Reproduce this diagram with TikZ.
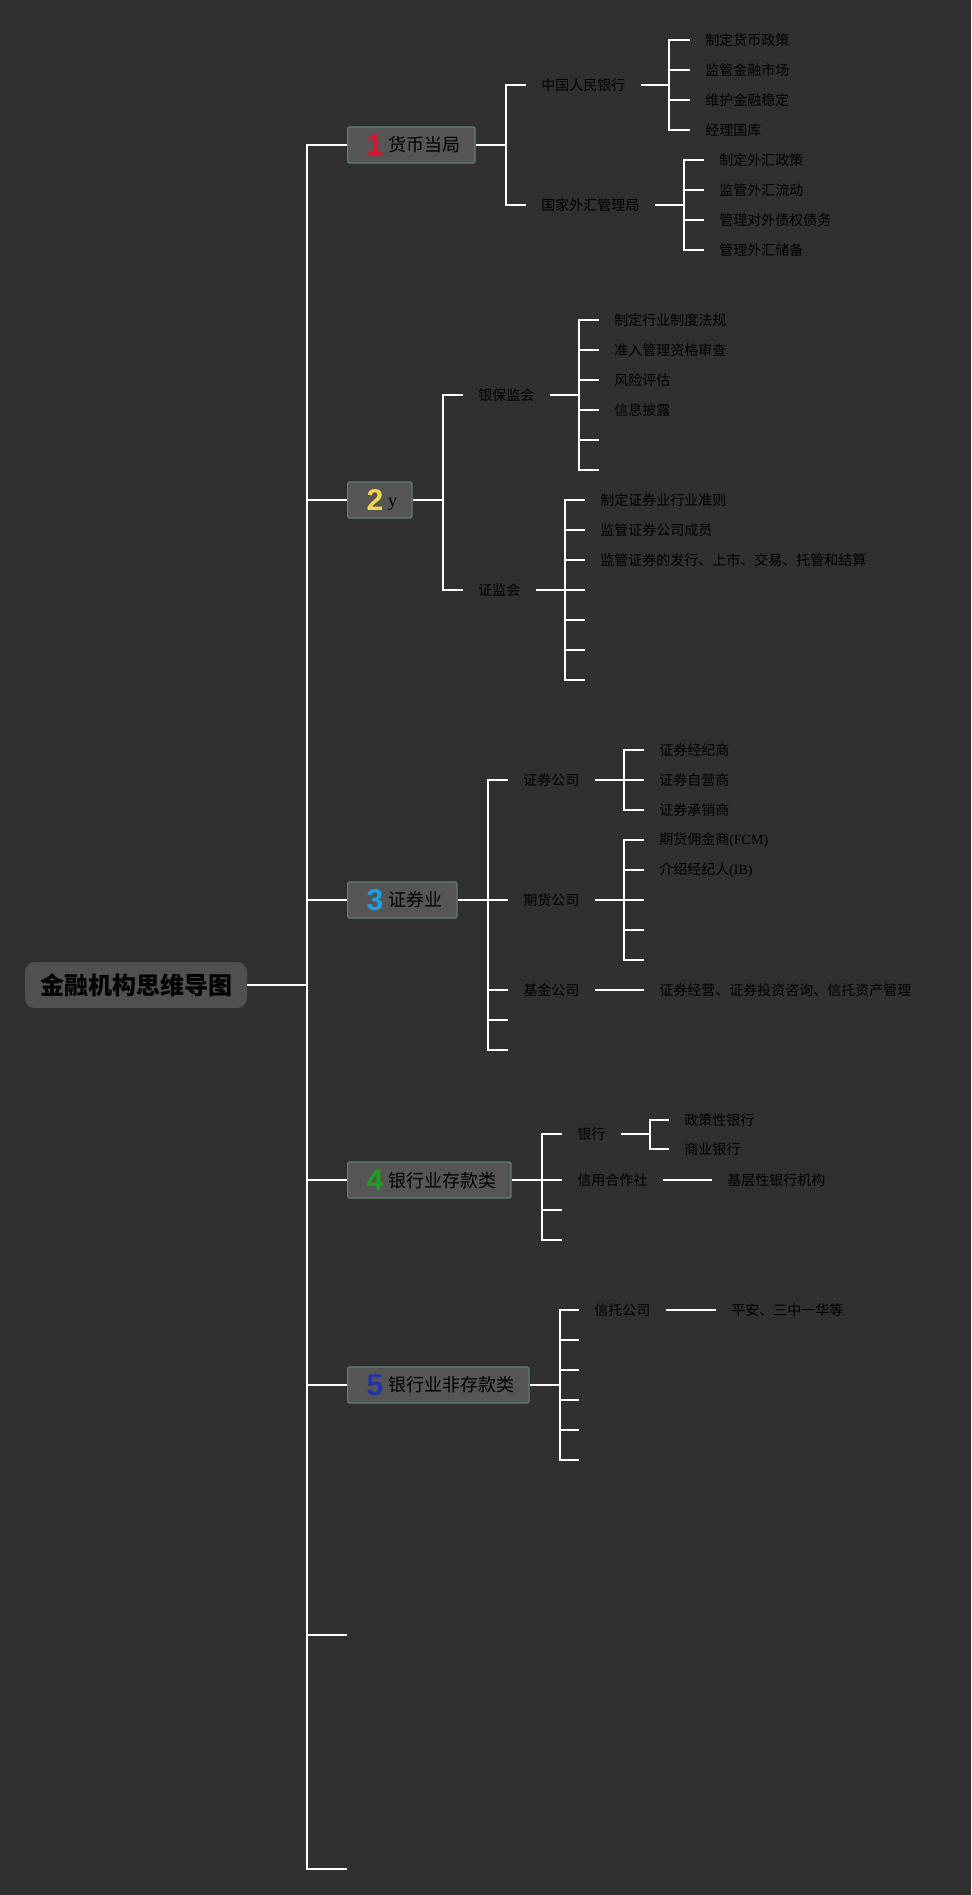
\documentclass[tikz,border=0pt]{standalone}
\usepackage{fontspec}
\setmainfont{Liberation Serif}
\newfontfamily\cjk{Noto Sans CJK SC}
\newfontfamily\numfont{Liberation Sans}
\definecolor{BgColor}{RGB}{48,48,48}
\definecolor{RootFill}{RGB}{80,80,80}
\definecolor{BoxFill}{RGB}{85,85,85}
\definecolor{BoxEdge}{RGB}{93,125,110}
\definecolor{NumRed}{RGB}{224,16,46}
\definecolor{NumYellow}{RGB}{242,214,75}
\definecolor{NumBlue}{RGB}{28,160,232}
\definecolor{NumGreen}{RGB}{26,164,26}
\definecolor{NumNavy}{RGB}{34,51,170}
\usetikzlibrary{positioning, calc}
% coloured number in front of a main topic
\newcommand{\bnum}[2]{\hspace{3pt}\raisebox{-2.5pt}{\numfont\bfseries\fontsize{22.5}{24}\selectfont\color{#1}#2}\hspace{3.5pt}}

\begin{document}
\begin{tikzpicture}[x=0.75pt, y=-0.75pt,
    link/.style={draw=white, line width=1.5pt},
    rootbox/.style={fill=RootFill, rounded corners=7.5pt, minimum height=34.5pt, inner xsep=11.25pt, font=\cjk\bfseries\fontsize{18}{20}\selectfont, text=black},
    mainbox/.style={anchor=west, draw=BoxEdge, fill=BoxFill, line width=1pt, rounded corners=1.5pt, minimum height=27pt, inner xsep=11.25pt, font=\cjk\fontsize{13.5}{16}\selectfont, text=black},
    sub/.style={anchor=west, inner xsep=11.25pt, inner ysep=2pt, font=\cjk\fontsize{10.5}{12}\selectfont, text=black}]
    % Background
    \useasboundingbox (0,0) rectangle (971,1895);
    \fill[BgColor] (0,0) rectangle (971,1895);
    % Root
    \node[rootbox] (root) at (136,985) {金融机构思维导图};
    \coordinate (trunk) at (307,985);
    \draw[link] (root.east) -- (trunk);
    % Main topics
    \node[mainbox] (b1) at (347,145) {\bnum{NumRed}{1}货币当局};
    \node[mainbox] (b2) at (347,500) {\bnum{NumYellow}{2}{\rmfamily y}};
    \node[mainbox] (b3) at (347,900) {\bnum{NumBlue}{3}证券业};
    \node[mainbox] (b4) at (347,1180) {\bnum{NumGreen}{4}银行业存款类};
    \node[mainbox] (b5) at (347,1385) {\bnum{NumNavy}{5}银行业非存款类};
    \coordinate (b6) at (347,1635);
    \coordinate (b7) at (347,1869);
    \foreach \n in {b1,b2,b3,b4,b5,b6,b7} {\draw[link] (\n.west) -| (trunk);}

    % 1 货币当局
    \node[sub] (s11) at (526,85) {中国人民银行};
    \node[sub] (s12) at (526,205) {国家外汇管理局};
    \coordinate (k1) at (506,145);
    \draw[link] (b1.east) -- (k1);
    \foreach \n in {s11,s12} {\draw[link] (\n.west) -| (k1);}
    \coordinate (k11) at (669,85);
    \draw[link] (s11.east) -- (k11);
    \foreach \t [count=\i] in {制定货币政策,监管金融市场,维护金融稳定,经理国库} {
        \node[sub] (l11-\i) at (690,10+30*\i) {\t};
        \draw[link] (l11-\i.west) -| (k11);
    }
    \coordinate (k12) at (684,205);
    \draw[link] (s12.east) -- (k12);
    \foreach \t [count=\i] in {制定外汇政策,监管外汇流动,管理对外债权债务,管理外汇储备} {
        \node[sub] (l12-\i) at (704,130+30*\i) {\t};
        \draw[link] (l12-\i.west) -| (k12);
    }

    % 2 y
    \node[sub] (s21) at (463,395) {银保监会};
    \node[sub] (s22) at (463,590) {证监会};
    \coordinate (k2) at (443,500);
    \draw[link] (b2.east) -- (k2);
    \foreach \n in {s21,s22} {\draw[link] (\n.west) -| (k2);}
    \coordinate (k21) at (579,395);
    \draw[link] (s21.east) -- (k21);
    \foreach \t [count=\i] in {制定行业制度法规,准入管理资格审查,风险评估,信息披露} {
        \node[sub] (l21-\i) at (599,290+30*\i) {\t};
        \draw[link] (l21-\i.west) -| (k21);
    }
    \foreach \y [count=\i] in {440,470} {
        \coordinate (e21-\i) at (599,\y);
        \draw[link] (e21-\i) -| (k21);
    }
    \coordinate (k22) at (565,590);
    \draw[link] (s22.east) -- (k22);
    \foreach \t [count=\i] in {制定证券业行业准则,监管证券公司成员,监管证券的发行、上市、交易、托管和结算} {
        \node[sub] (l22-\i) at (585,470+30*\i) {\t};
        \draw[link] (l22-\i.west) -| (k22);
    }
    \foreach \y [count=\i] in {590,620,650,680} {
        \coordinate (e22-\i) at (585,\y);
        \draw[link] (e22-\i) -| (k22);
    }

    % 3 证券业
    \node[sub] (s31) at (508,780) {证券公司};
    \node[sub] (s32) at (508,900) {期货公司};
    \node[sub] (s33) at (508,990) {基金公司};
    \coordinate (s34) at (508,1020);
    \coordinate (s35) at (508,1050);
    \coordinate (k3) at (488,900);
    \draw[link] (b3.east) -- (k3);
    \foreach \n in {s31,s32,s33,s34,s35} {\draw[link] (\n.west) -| (k3);}
    \coordinate (k31) at (624,780);
    \draw[link] (s31.east) -- (k31);
    \foreach \t [count=\i] in {证券经纪商,证券自营商,证券承销商} {
        \node[sub] (l31-\i) at (644,720+30*\i) {\t};
        \draw[link] (l31-\i.west) -| (k31);
    }
    \coordinate (k32) at (624,900);
    \draw[link] (s32.east) -- (k32);
    \foreach \t [count=\i] in {期货佣金商{\rmfamily (FCM)},介绍经纪人{\rmfamily (IB)}} {
        \node[sub] (l32-\i) at (644,810+30*\i) {\t};
        \draw[link] (l32-\i.west) -| (k32);
    }
    \foreach \y [count=\i] in {900,930,960} {
        \coordinate (e32-\i) at (644,\y);
        \draw[link] (e32-\i) -| (k32);
    }
    \node[sub] (l33) at (644,990) {证券经营、证券投资咨询、信托资产管理};
    \draw[link] (s33.east) -- (l33.west);

    % 4 银行业存款类
    \node[sub] (s41) at (562,1134) {银行};
    \node[sub] (s42) at (562,1180) {信用合作社};
    \coordinate (s43) at (562,1210);
    \coordinate (s44) at (562,1240);
    \coordinate (k4) at (542,1180);
    \draw[link] (b4.east) -- (k4);
    \foreach \n in {s41,s42,s43,s44} {\draw[link] (\n.west) -| (k4);}
    \coordinate (k41) at (650,1134);
    \draw[link] (s41.east) -- (k41);
    \node[sub] (l41-1) at (669,1120) {政策性银行};
    \node[sub] (l41-2) at (669,1149) {商业银行};
    \foreach \n in {l41-1,l41-2} {\draw[link] (\n.west) -| (k41);}
    \node[sub] (l42) at (712,1180) {基层性银行机构};
    \draw[link] (s42.east) -- (l42.west);

    % 5 银行业非存款类
    \node[sub] (s51) at (579,1310) {信托公司};
    \coordinate (k5) at (560,1385);
    \draw[link] (b5.east) -- (k5);
    \draw[link] (s51.west) -| (k5);
    \foreach \y [count=\i] in {1340,1370,1400,1430,1460} {
        \coordinate (e5-\i) at (579,\y);
        \draw[link] (e5-\i) -| (k5);
    }
    \node[sub] (l51) at (716,1310) {平安、三中一华等};
    \draw[link] (s51.east) -- (l51.west);
\end{tikzpicture}
\end{document}
